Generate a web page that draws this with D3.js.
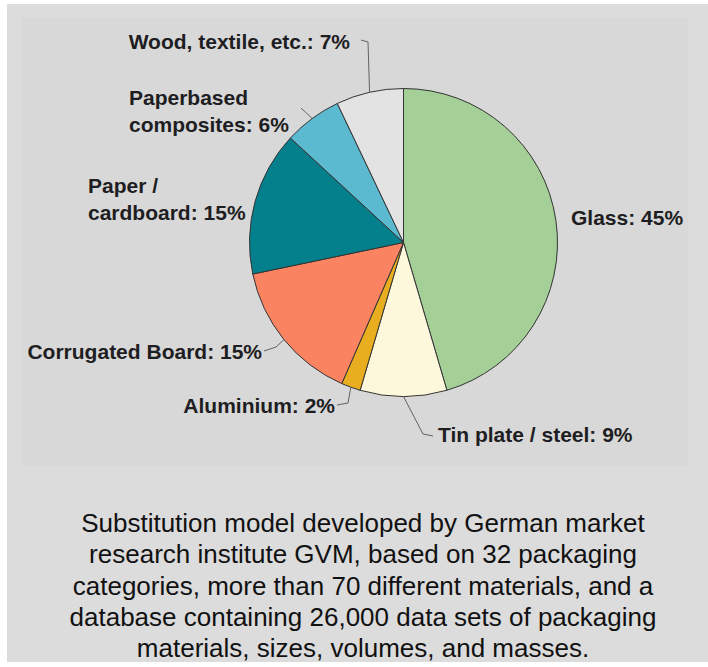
<!DOCTYPE html>
<html>
<head>
<meta charset="utf-8">
<script src="https://cdn.jsdelivr.net/npm/d3@7"></script>
<style>
  html, body { margin: 0; padding: 0; background: #ffffff; }
  svg { display: block; }
</style>
</head>
<body>
<svg id="chart" width="708" height="667"></svg>
<script>
// ---- data ----
const categories = ["Glass", "Tin plate / steel", "Aluminium", "Corrugated Board", "Paper / cardboard", "Paperbased composites", "Wood, textile, etc."];
const values = [45, 9, 2, 15, 15, 6, 7];
const colors = ["#a4cf97", "#fdf8dc", "#e8ae20", "#fa8461", "#04808c", "#5bbad0", "#e3e3e3"];
const labelLines = [
  ["Glass: 45%"],
  ["Tin plate / steel: 9%"],
  ["Aluminium: 2%"],
  ["Corrugated Board: 15%"],
  ["Paper /", "cardboard: 15%"],
  ["Paperbased", "composites: 6%"],
  ["Wood, textile, etc.: 7%"]
];
const captionLines = [
  "Substitution model developed by German market",
  "research institute GVM, based on 32 packaging",
  "categories, more than 70 different materials, and a",
  "database containing 26,000 data sets of packaging",
  "materials, sizes, volumes, and masses."
];

// ---- layout (offsets relative to pie centre) ----
const cx = 403.5, cy = 242.5, R = 154;
const labelLayout = [
  { x: 167.5, y: -17.5, anchor: "start", leader: null },
  { x: 34.5, y: 199.5, anchor: "start", leader: [[19.5, 191.5], [29.5, 193.5]] },
  { x: -68.5, y: 170.5, anchor: "end", leader: [[-55.5, 160.5], [-66.5, 162.5]] },
  { x: -141.5, y: 116.5, anchor: "end", leader: [[-127.5, 104.5], [-139.5, 108.5]] },
  { x: -315.5, y: -49.5, anchor: "start", leader: null },
  { x: -274.5, y: -137.5, anchor: "start", leader: [[-102.5, -134.5]] },
  { x: -53.5, y: -193.5, anchor: "end", leader: [[-35.5, -200.5], [-42.5, -202.5]] }
];

const svg = d3.select("#chart");

// panels
svg.append("rect").attr("x", 7).attr("y", 4).attr("width", 701).attr("height", 658).attr("fill", "#dcdcdc");
svg.append("rect").attr("x", 22).attr("y", 18).attr("width", 666).attr("height", 447).attr("fill", "#d8d8d8");

const pie = d3.pie().sort(null).value(d => d)(values);
const arc = d3.arc().innerRadius(0).outerRadius(R);

const g = svg.append("g").attr("transform", `translate(${cx},${cy})`);

g.selectAll("path.slice")
  .data(pie)
  .join("path")
  .attr("class", "slice")
  .attr("d", arc)
  .attr("fill", (d, i) => colors[i])
  .attr("stroke", "#333")
  .attr("stroke-width", 1)
  .attr("stroke-linejoin", "round");

// leaders
pie.forEach((d, i) => {
  const L = labelLayout[i];
  if (!L.leader) return;
  const mid = (d.startAngle + d.endAngle) / 2;
  const start = [Math.sin(mid) * R, -Math.cos(mid) * R];
  const pts = [start].concat(L.leader);
  g.append("path")
    .attr("d", d3.line()(pts))
    .attr("fill", "none")
    .attr("stroke", "#555")
    .attr("stroke-width", 0.9);
});

// labels
pie.forEach((d, i) => {
  const L = labelLayout[i];
  const t = g.append("text")
    .attr("x", L.x).attr("y", L.y)
    .attr("text-anchor", L.anchor)
    .attr("font-family", "Liberation Sans, Arial, sans-serif")
    .attr("font-weight", "bold")
    .attr("font-size", 21)
    .attr("fill", "#1e1e22");
  labelLines[i].forEach((line, k) => {
    t.append("tspan").attr("x", L.x).attr("dy", k === 0 ? 0 : 26.5).text(line);
  });
});

// caption
const cap = svg.append("text")
  .attr("x", 363).attr("y", 532)
  .attr("text-anchor", "middle")
  .attr("font-family", "Liberation Sans, Arial, sans-serif")
  .attr("font-size", 26)
  .attr("fill", "#111");
captionLines.forEach((line, k) => {
  cap.append("tspan").attr("x", 363).attr("dy", k === 0 ? 0 : 31.3).text(line);
});
</script>
</body>
</html>
